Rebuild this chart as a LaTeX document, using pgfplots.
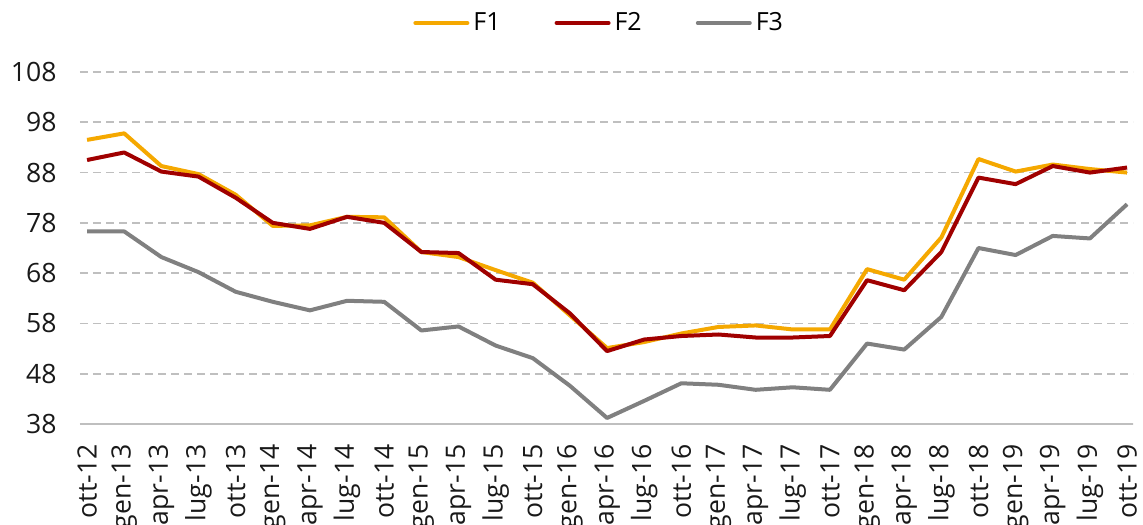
\documentclass[border=0pt]{standalone}
\usepackage{pgfplots}
\pgfplotsset{compat=1.18}
\usepackage{fontspec}
\setmainfont{Open Sans}
\definecolor{cF1}{HTML}{F5A800}
\definecolor{cF2}{HTML}{A00000}
\definecolor{cF3}{HTML}{808080}
\definecolor{gridc}{HTML}{BFBFBF}
\begin{document}
\begin{tikzpicture}
\begin{axis}[
  at={(0,0)}, anchor=south west,
  scale only axis, width=526.5pt, height=176pt,
  xmin=-0.19, xmax=28.16, ymin=38, ymax=108,
  ytick={38,48,...,108},
  xtick={0,...,28},
  xticklabels={ott-12,gen-13,apr-13,lug-13,ott-13,gen-14,apr-14,lug-14,ott-14,gen-15,apr-15,lug-15,ott-15,gen-16,apr-16,lug-16,ott-16,gen-17,apr-17,lug-17,ott-17,gen-18,apr-18,lug-18,ott-18,gen-19,apr-19,lug-19,ott-19},
  axis lines*=left,
  x axis line style={draw=gridc, line width=1pt, -},
  y axis line style={draw=none},
  tick style={draw=none},
  ymajorgrids,
  major grid style={draw=gridc, line width=0.9pt, dash pattern=on 4pt off 2.5pt},
  /pgf/number format/assume math mode=true,
  tick label style={font=\fontsize{13.3}{15}\selectfont, text=black!90},
  xticklabel style={rotate=90, anchor=east, xshift=-6.7pt},
  yticklabel style={anchor=east, xshift=-8.2pt},
  legend style={at={(0.494,1)}, anchor=center, yshift=24.5pt, draw=none,
    font=\fontsize{12.5}{14}\selectfont, legend columns=3,
    /tikz/every even column/.append style={column sep=25pt}},
  legend image code/.code={\draw[#1, line width=2pt, line cap=round] (0pt,0pt) -- (26pt,0pt);},
  every axis plot/.append style={line width=2pt, line join=round},
]
\addplot[cF1] coordinates {(0,94.5)(1,95.8)(2,89.3)(3,87.7)(4,83.6)(5,77.4)(6,77.5)(7,79.2)(8,79.1)(9,72.2)(10,71.2)(11,68.6)(12,66.1)(13,59.6)(14,53.1)(15,54.3)(16,56.0)(17,57.3)(18,57.6)(19,56.8)(20,56.8)(21,68.8)(22,66.7)(23,75.1)(24,90.7)(25,88.2)(26,89.6)(27,88.7)(28,88.0)};
\addlegendentry{F1}
\addplot[cF2] coordinates {(0,90.5)(1,92.0)(2,88.2)(3,87.2)(4,83.0)(5,78.0)(6,76.8)(7,79.2)(8,78.0)(9,72.2)(10,72.0)(11,66.7)(12,65.8)(13,60.0)(14,52.5)(15,54.8)(16,55.5)(17,55.8)(18,55.2)(19,55.2)(20,55.5)(21,66.6)(22,64.6)(23,72.2)(24,87.0)(25,85.7)(26,89.3)(27,88.0)(28,89.0)};
\addlegendentry{F2}
\addplot[cF3] coordinates {(0,76.3)(1,76.3)(2,71.2)(3,68.2)(4,64.3)(5,62.3)(6,60.6)(7,62.5)(8,62.3)(9,56.6)(10,57.4)(11,53.6)(12,51.1)(13,45.6)(14,39.2)(15,42.6)(16,46.1)(17,45.8)(18,44.8)(19,45.3)(20,44.8)(21,54.0)(22,52.8)(23,59.3)(24,73.0)(25,71.6)(26,75.4)(27,74.9)(28,81.7)};
\addlegendentry{F3}
\end{axis}
\pgfresetboundingbox
\path[use as bounding box] (-40pt,-50pt) rectangle (531.5pt,212pt);
\end{tikzpicture}
\end{document}
